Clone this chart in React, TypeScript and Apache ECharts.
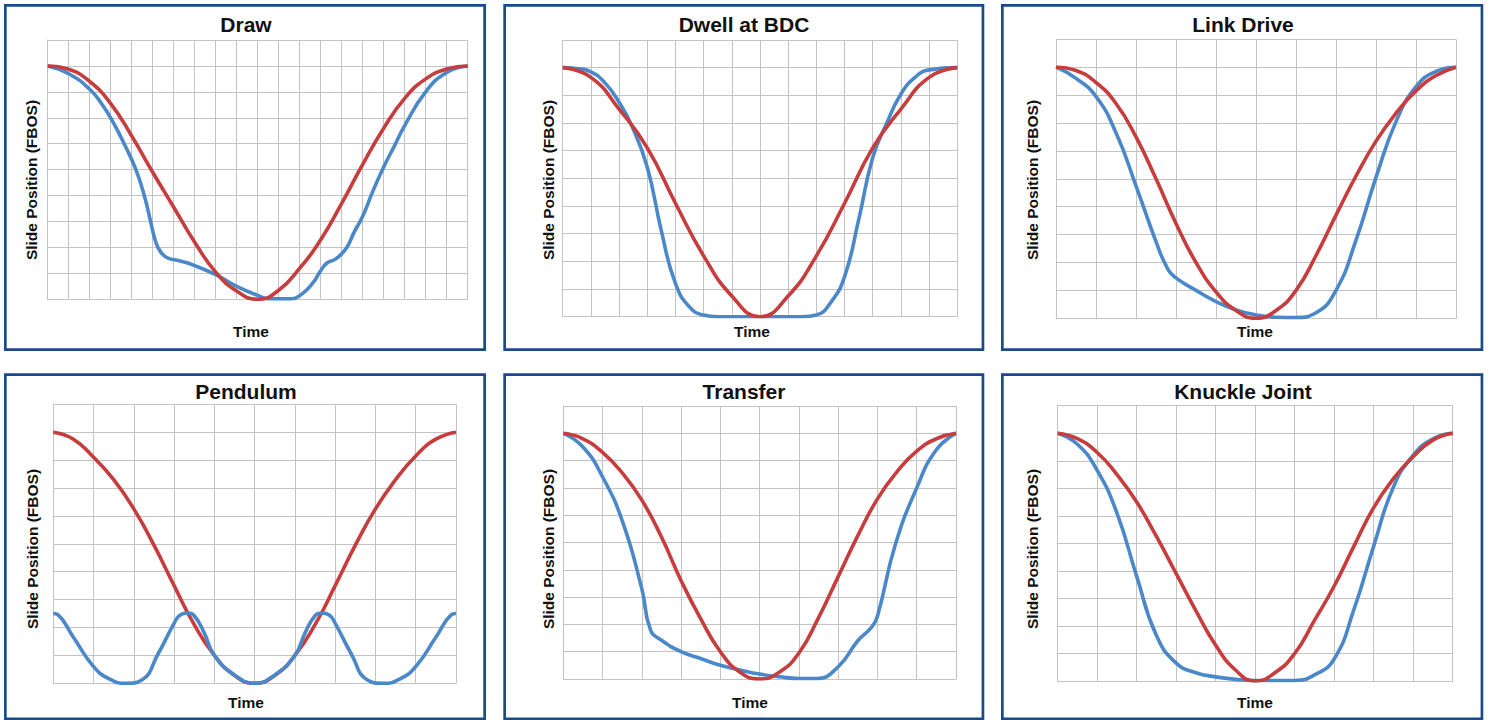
import React, { useEffect, useRef } from "react";
import * as echarts from "echarts";

// ---- titles / labels ----
const panelTitles = ["Draw", "Dwell at BDC", "Link Drive", "Pendulum", "Transfer", "Knuckle Joint"];
const yAxisTitle = "Slide Position (FBOS)";
const xAxisTitle = "Time";
// number of vertical grid intervals (time) per panel
const timeIntervals = [20, 14, 10, 10, 10, 10];
const positionMax = 10;

// ---- curve data: [time, position] ----
const drawRed = [[0,9],[1,8.87],[2,8.4],[3,7.55],[4,6.3],[5,4.9],[6,3.55],[7,2.2],[8,1.05],[9,0.32],[10,0],[11,0.35],[12,1.2],[13,2.3],[14,3.7],[15,5.2],[16,6.6],[17,7.75],[18,8.5],[19,8.88],[20,9]];
const drawBlue = [[0,9],[1,8.7],[2,8.1],[2.6,7.5],[3.1,6.85],[3.7,5.9],[4.2,5],[4.6,4],[4.9,3],[5.15,2.2],[5.4,1.8],[5.7,1.6],[6.3,1.48],[7,1.3],[8,0.95],[9,0.5],[10,0.15],[10.6,0.02],[11.6,0.02],[12.1,0.2],[12.6,0.6],[13,1.1],[13.3,1.4],[13.7,1.55],[14.2,1.95],[14.6,2.6],[15,3.2],[15.5,4.2],[16,5.1],[16.5,5.9],[17,6.7],[18,8.0],[19,8.75],[20,9]];

const dwellRed = [[0,9],[1,8.65],[2,7.5],[3,6.1],[4,4.1],[5,2.2],[6,0.75],[7,0],[8,0.75],[9,2.2],[10,4.1],[11,6.1],[12,7.5],[13,8.65],[14,9]];
const dwellBlue = [[0,9],[0.5,8.97],[1,8.85],[1.5,8.45],[2,7.75],[2.45,6.9],[3,5.4],[3.5,3.1],[4,1.2],[4.5,0.35],[5,0.06],[5.5,0],[8.5,0],[9,0.06],[9.5,0.5],[10,1.45],[10.5,3.5],[11,5.75],[11.5,7.0],[12,8.05],[12.5,8.65],[13,8.92],[14,9]];

const linkRed = [[0,9],[0.5,8.88],[1,8.45],[1.5,7.7],[2,6.5],[2.5,5.0],[3,3.4],[3.5,2.0],[4,0.95],[4.5,0.28],[5,0],[5.5,0.28],[6,1.0],[6.5,2.25],[7,3.7],[7.5,5.1],[8,6.35],[8.5,7.35],[9,8.15],[9.5,8.7],[10,9]];
const linkBlue = [[0,9],[0.5,8.6],[1,7.95],[1.5,6.65],[2,4.75],[2.5,2.75],[2.8,1.75],[3,1.45],[3.5,1.0],[4,0.6],[4.5,0.3],[5,0.12],[5.5,0.04],[6,0.03],[6.5,0.2],[7,1.0],[7.5,2.8],[8,5.05],[8.5,7.05],[9,8.3],[9.5,8.85],[10,9]];

const pendRed = [[0,9],[0.5,8.75],[1,8.1],[1.5,7.3],[2,6.25],[2.5,4.95],[3,3.5],[3.5,2.1],[4,1.0],[4.5,0.28],[5,0],[5.5,0.28],[6,1.0],[6.5,2.1],[7,3.5],[7.5,4.95],[8,6.25],[8.5,7.3],[9,8.15],[9.5,8.75],[10,9]];
const pendBlue = [[0,2.5],[0.12,2.45],[0.5,1.65],[1,0.6],[1.4,0.15],[1.8,0],[2.2,0.12],[2.6,1.05],[3,2.15],[3.15,2.45],[3.33,2.52],[3.5,2.42],[3.75,1.8],[4,1.0],[4.5,0.3],[5,0],[5.5,0.3],[6,1.0],[6.25,1.8],[6.5,2.42],[6.67,2.52],[6.85,2.45],[7,2.15],[7.4,1.05],[7.8,0.12],[8.2,0],[8.6,0.15],[9,0.6],[9.5,1.65],[9.88,2.45],[10,2.5]];

const transRed = [[0,9],[0.5,8.8],[1,8.3],[1.5,7.55],[2,6.55],[2.5,5.2],[3,3.6],[3.5,2.2],[4,1.0],[4.5,0.25],[5,0],[5.5,0.25],[6,0.95],[6.5,2.25],[7,3.75],[7.5,5.25],[8,6.6],[8.5,7.6],[9,8.35],[9.5,8.8],[10,9]];
const transBlue = [[0,9],[0.5,8.5],[1,7.4],[1.5,5.8],[2,3.3],[2.22,1.8],[2.5,1.42],[3,1.0],[3.5,0.75],[4,0.5],[4.5,0.33],[5,0.18],[5.5,0.08],[6,0.02],[6.45,0.02],[7,0.45],[7.5,1.4],[7.85,1.9],[8,2.3],[8.45,4.9],[9,7.0],[9.5,8.4],[10,9]];

const knRed = [[0,9],[0.5,8.8],[1,8.3],[1.5,7.5],[2,6.5],[2.5,5.25],[3,3.9],[3.5,2.55],[4,1.3],[4.5,0.4],[5,0],[5.5,0.3],[6,1.0],[6.5,2.2],[7,3.45],[7.5,4.9],[8,6.3],[8.5,7.35],[9,8.15],[9.5,8.75],[10,9]];
const knBlue = [[0,9],[0.5,8.6],[1,7.65],[1.5,6.1],[2,3.8],[2.5,1.65],[3,0.65],[3.5,0.3],[4,0.15],[4.5,0.06],[5,0.02],[6,0.02],[6.5,0.22],[7,0.8],[7.5,2.6],[8,4.9],[8.5,7.05],[9,8.2],[9.5,8.8],[10,9]];

const redCurves = [drawRed, dwellRed, linkRed, pendRed, transRed, knRed];
const blueCurves = [drawBlue, dwellBlue, linkBlue, pendBlue, transBlue, knBlue];

// ---- layout (pixels) ----
const plotBoxes = [
  { left: 47.7, top: 40, width: 420, height: 259.3 },
  { left: 562.7, top: 40, width: 394.6, height: 276.7 },
  { left: 1056, top: 39.3, width: 400, height: 279 },
  { left: 53.3, top: 404.3, width: 402.7, height: 279 },
  { left: 563.3, top: 406, width: 392.7, height: 273 },
  { left: 1057.7, top: 405.7, width: 395, height: 275.3 },
];
const frames = [
  { x: 5.35, y: 5.35, w: 479.3, h: 344.3 },
  { x: 504.65, y: 5.35, w: 478.3, h: 344.3 },
  { x: 1002.35, y: 5.35, w: 479.6, h: 344.3 },
  { x: 5.35, y: 374.65, w: 479.3, h: 344.3 },
  { x: 504.65, y: 374.65, w: 478.3, h: 344.3 },
  { x: 1002.35, y: 374.65, w: 479.6, h: 344.3 },
];
const titlePos = [[246, 24], [744, 24], [1243, 24], [246, 391], [744, 391], [1243, 391]];
const yTitlePos = [[31, 180], [548, 180], [1032, 180], [32, 549], [548, 549], [1032, 549]];
const xTitlePos = [[251, 331], [752, 331], [1255, 331], [246, 702], [750, 702], [1255, 702]];

const FONT = "'Liberation Sans', Arial, Helvetica, sans-serif";
const GRID_COLOR = "#c3c3c3";
const RED = "#c73c3d";
const BLUE = "#4b88c9";
const FRAME = "#1b4a8a";

export default function App() {
  const ref = useRef<HTMLDivElement>(null);
  useEffect(() => {
    if (!ref.current) return;
    const chart = echarts.init(ref.current, null, { renderer: "svg" });
    const grid = plotBoxes.map((b) => ({ ...b, containLabel: false }));
    const xAxis = timeIntervals.map((n, i) => ({
      type: "value",
      gridIndex: i,
      min: 0,
      max: n,
      interval: 1,
      axisLabel: { show: false },
      axisTick: { show: false },
      axisLine: { show: true, lineStyle: { color: GRID_COLOR, width: 1 } },
      splitLine: { show: true, lineStyle: { color: GRID_COLOR, width: 1 } },
    }));
    const yAxis = timeIntervals.map((_, i) => ({
      type: "value",
      gridIndex: i,
      min: 0,
      max: positionMax,
      interval: 1,
      axisLabel: { show: false },
      axisTick: { show: false },
      axisLine: { show: true, lineStyle: { color: GRID_COLOR, width: 1 } },
      splitLine: { show: true, lineStyle: { color: GRID_COLOR, width: 1 } },
    }));
    const series: any[] = [];
    for (let i = 0; i < 6; i++) {
      series.push({
        type: "line",
        xAxisIndex: i,
        yAxisIndex: i,
        data: redCurves[i],
        smooth: 0.5,
        showSymbol: false,
        symbol: "none",
        lineStyle: { color: RED, width: 3.6 },
        z: 3,
      });
      series.push({
        type: "line",
        xAxisIndex: i,
        yAxisIndex: i,
        data: blueCurves[i],
        smooth: 0.5,
        showSymbol: false,
        symbol: "none",
        lineStyle: { color: BLUE, width: 3.6 },
        z: i === 3 ? 4 : 2,
      });
    }
    const graphic: any[] = [];
    frames.forEach((f) => {
      graphic.push({
        type: "rect",
        shape: { x: f.x, y: f.y, width: f.w, height: f.h },
        style: { fill: "none", stroke: FRAME, lineWidth: 2.7 },
        silent: true,
      });
    });
    panelTitles.forEach((t, i) => {
      graphic.push({
        type: "text",
        x: titlePos[i][0],
        y: titlePos[i][1],
        style: {
          text: t,
          font: `bold 21px ${FONT}`,
          fill: "#111111",
          align: "center",
          verticalAlign: "middle",
        },
      });
      graphic.push({
        type: "text",
        x: yTitlePos[i][0],
        y: yTitlePos[i][1],
        rotation: Math.PI / 2,
        style: {
          text: yAxisTitle,
          font: `bold 15.5px ${FONT}`,
          fill: "#111111",
          align: "center",
          verticalAlign: "middle",
        },
      });
      graphic.push({
        type: "text",
        x: xTitlePos[i][0],
        y: xTitlePos[i][1],
        style: {
          text: xAxisTitle,
          font: `bold 15.5px ${FONT}`,
          fill: "#111111",
          align: "center",
          verticalAlign: "middle",
        },
      });
    });
    chart.setOption({
      animation: false,
      backgroundColor: "#ffffff",
      grid,
      xAxis,
      yAxis,
      series,
      graphic,
    });
    return () => chart.dispose();
  }, []);
  return (
    <div
      ref={ref}
      style={{ position: "fixed", left: 0, top: 0, width: 1489, height: 720, background: "#fff" }}
    />
  );
}
